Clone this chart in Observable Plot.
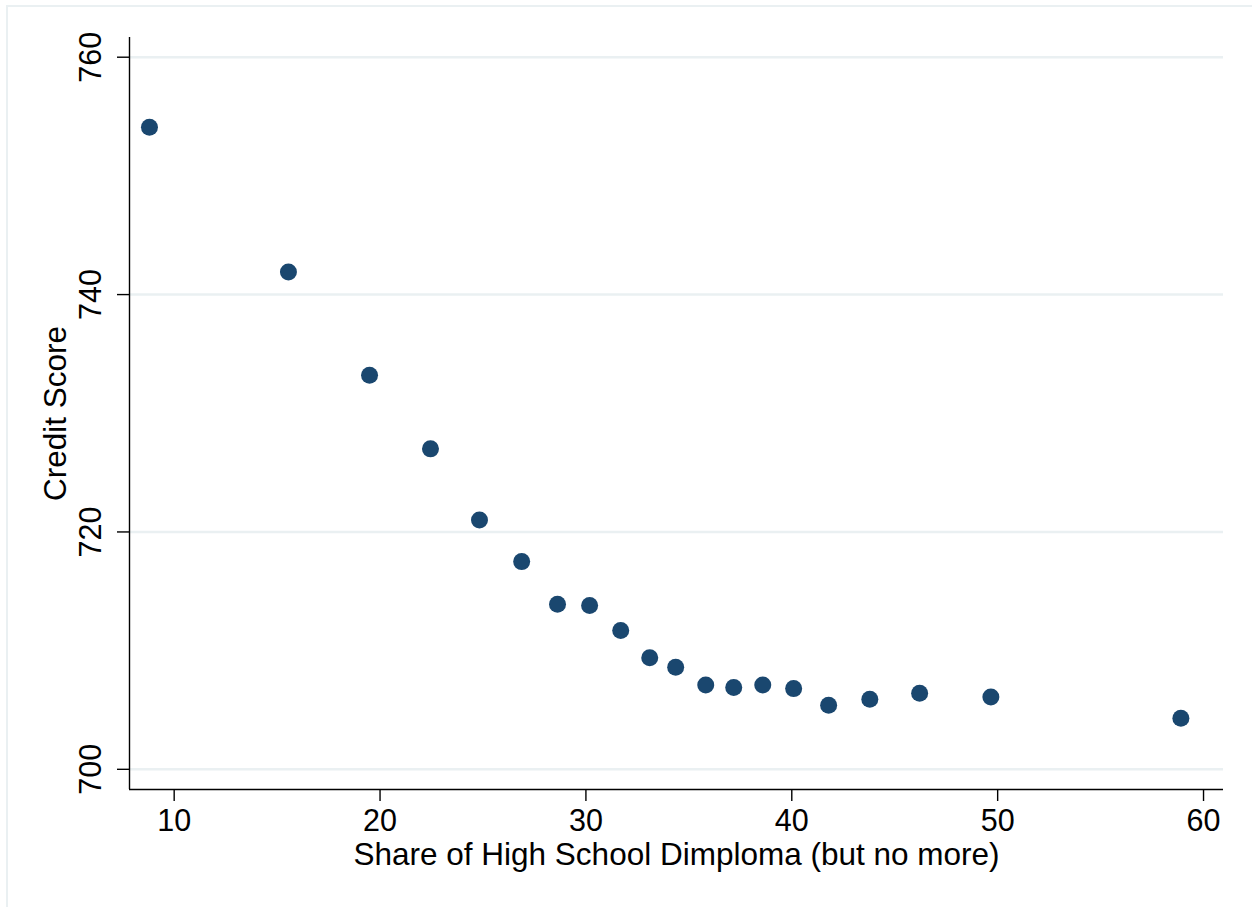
<!DOCTYPE html>
<html>
<head>
<meta charset="utf-8">
<script src="https://cdn.jsdelivr.net/npm/d3@7"></script>
<script src="https://cdn.jsdelivr.net/npm/@observablehq/plot@0.6"></script>
<style>
  html, body { margin: 0; padding: 0; background: #ffffff; overflow: hidden; }
  #wrap { position: relative; width: 1252px; height: 907px; }
  #border { position: absolute; left: 6px; top: 5px; width: 1270px; height: 920px; border: 2px solid #eaf0f2; box-sizing: border-box; }
  #chart { position: absolute; left: 0; top: 0; }
</style>
</head>
<body>
<div id="wrap"><div id="border"></div><div id="chart"></div></div>
<script>
// Share of High School Diploma (but no more), %
const shareHS = [8.80, 15.55, 19.49, 22.45, 24.83, 26.88, 28.62, 30.18, 31.69, 33.10,
                 34.36, 35.82, 37.18, 38.59, 40.09, 41.79, 43.79, 46.21, 49.67, 58.90];
// Credit score
const creditScore = [754.1, 741.9, 733.2, 727.0, 721.0, 717.5, 713.9, 713.8, 711.7, 709.4,
                     708.6, 707.1, 706.9, 707.1, 706.8, 705.4, 705.9, 706.4, 706.1, 704.3];
const xTicks = [10, 20, 30, 40, 50, 60];
const yTicks = [700, 720, 740, 760];
const xTitle = "Share of High School Dimploma (but no more)";
const yTitle = "Credit Score";

const data = shareHS.map((x, i) => ({x, y: creditScore[i]}));
const xDomain = [7.83, 60.97];
const yDomain = [698.3, 761.66];
const font = "'Liberation Sans', Arial, Helvetica, sans-serif";
const fs = 31.5;
const tickFs = 30.5;

const chart = Plot.plot({
  width: 1252,
  height: 907,
  marginLeft: 129,
  marginRight: 29,
  marginTop: 37,
  marginBottom: 118,
  style: {fontFamily: font, background: "transparent", color: "#000"},
  x: {domain: xDomain},
  y: {domain: yDomain},
  marks: [
    Plot.gridY(yTicks, {stroke: "#eaf0f2", strokeOpacity: 1, strokeWidth: 2.5}),
    Plot.ruleX([xDomain[0]], {stroke: "#000", strokeWidth: 1.4}),
    Plot.ruleY([yDomain[0]], {stroke: "#000", strokeWidth: 1.4}),
    Plot.axisX(xTicks, {tickSize: 12, tickPadding: 8, fontSize: tickFs, label: null, stroke: "#000", strokeWidth: 1.4, fill: "#000"}),
    Plot.axisY(yTicks, {tickSize: 12, tickFormat: () => "", label: null, stroke: "#000", strokeWidth: 1.4}),
    Plot.text(yTicks, {y: d => d, text: d => String(d), frameAnchor: "left", dx: -29, rotate: -90,
      textAnchor: "middle", lineAnchor: "bottom", fontSize: tickFs, fill: "#000"}),
    Plot.text([xTitle], {text: d => d, frameAnchor: "bottom", dy: 75, lineAnchor: "bottom",
      textAnchor: "middle", fontSize: fs, fill: "#000"}),
    Plot.text([yTitle], {text: d => d, frameAnchor: "left", dx: -64, rotate: -90,
      textAnchor: "middle", lineAnchor: "bottom", fontSize: fs, fill: "#000"}),
    Plot.dot(data, {x: "x", y: "y", r: 8.5, fill: "#1a476f", stroke: "none"})
  ]
});
document.getElementById("chart").appendChild(chart);
</script>
</body>
</html>
